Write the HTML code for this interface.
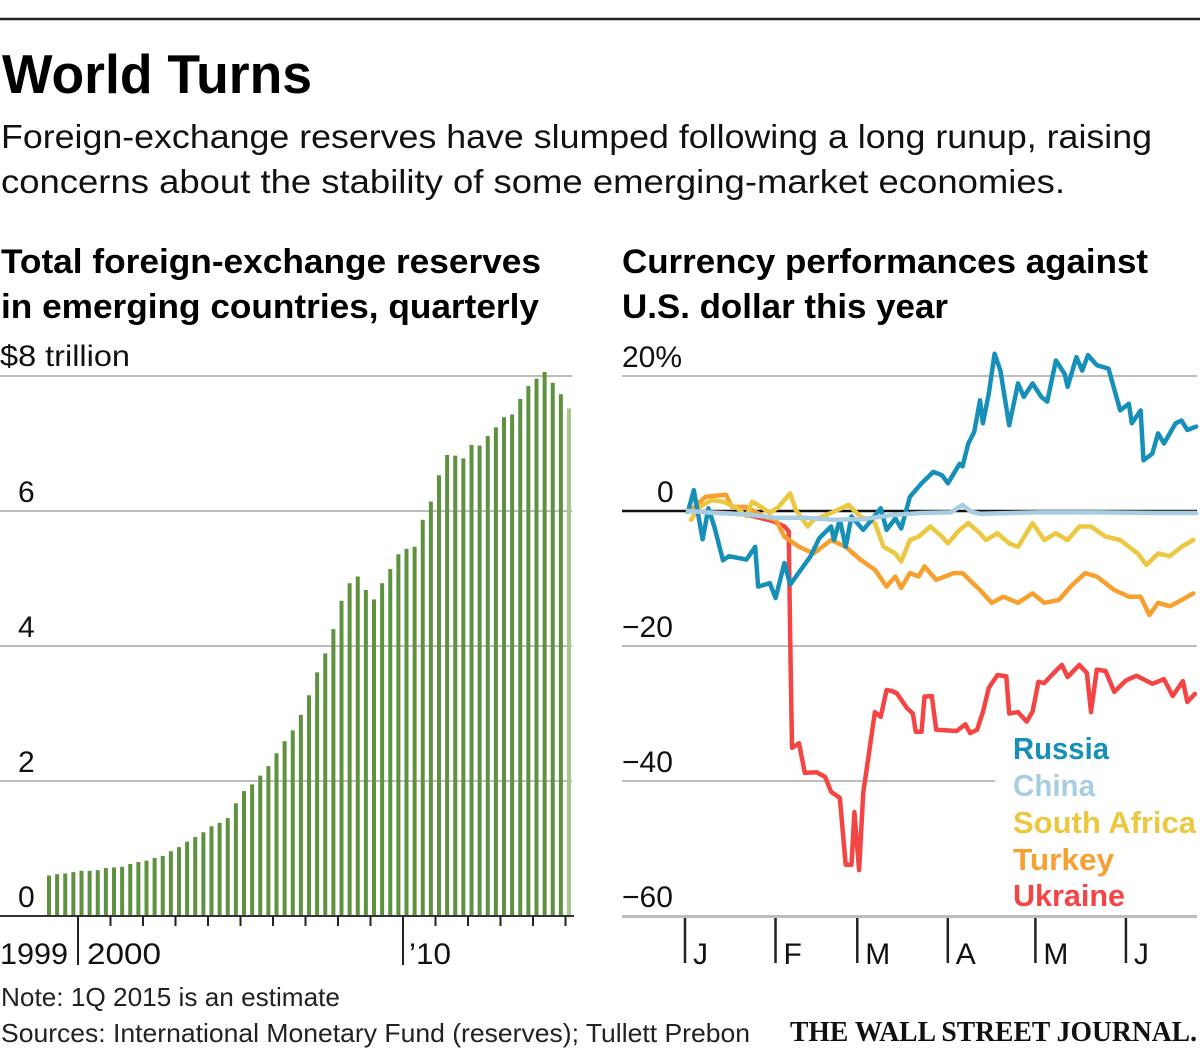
<!DOCTYPE html>
<html><head><meta charset="utf-8"><style>
html,body{margin:0;padding:0;background:#fff;}
svg{display:block;font-family:"Liberation Sans",sans-serif;}
</style></head><body>
<svg id="chart" width="1200" height="1050" viewBox="0 0 1200 1050" xmlns="http://www.w3.org/2000/svg">
<line x1="0" y1="19" x2="1200" y2="19" stroke="#222" stroke-width="2.5"/>
<text x="2" y="93" font-size="55" font-weight="bold" textLength="310" lengthAdjust="spacingAndGlyphs" fill="#000">World Turns</text>
<text x="1" y="148" font-size="33" textLength="1151" lengthAdjust="spacingAndGlyphs" fill="#111">Foreign-exchange reserves have slumped following a long runup, raising</text>
<text x="1" y="193" font-size="33" textLength="1064" lengthAdjust="spacingAndGlyphs" fill="#111">concerns about the stability of some emerging-market economies.</text>
<text x="1" y="273" font-size="34" font-weight="bold" textLength="540" lengthAdjust="spacingAndGlyphs">Total foreign-exchange reserves</text>
<text x="1" y="318" font-size="34" font-weight="bold" textLength="538" lengthAdjust="spacingAndGlyphs">in emerging countries, quarterly</text>
<text x="622" y="273" font-size="34" font-weight="bold" textLength="526" lengthAdjust="spacingAndGlyphs">Currency performances against</text>
<text x="622" y="318" font-size="34" font-weight="bold" textLength="326" lengthAdjust="spacingAndGlyphs">U.S. dollar this year</text>
<g id="left"></g>
<g id="right"></g>
<text x="1" y="1006" font-size="26" textLength="339" lengthAdjust="spacingAndGlyphs" fill="#222">Note: 1Q 2015 is an estimate</text>
<text x="1" y="1042" font-size="26" textLength="749" lengthAdjust="spacingAndGlyphs" fill="#222">Sources: International Monetary Fund (reserves); Tullett Prebon</text>
<text x="790" y="1041" font-size="28" font-weight="bold" font-family="Liberation Serif, serif" textLength="407" lengthAdjust="spacingAndGlyphs" fill="#111">THE WALL STREET JOURNAL.</text>
</svg>
<script>
// ---- Left chart data ----
const reserveQuarters = 65; // 1999Q1 .. 2015Q1
const reserveValues = [0.60,0.62,0.63,0.65,0.67,0.67,0.68,0.71,0.72,0.73,0.77,0.80,0.82,0.86,0.89,0.96,1.02,1.10,1.17,1.24,1.33,1.38,1.45,1.67,1.85,1.95,2.08,2.22,2.41,2.59,2.75,2.98,3.27,3.61,3.89,4.25,4.67,4.93,5.03,4.83,4.69,4.93,5.14,5.36,5.44,5.47,5.87,6.14,6.53,6.83,6.82,6.78,6.98,6.97,7.11,7.24,7.39,7.43,7.66,7.85,7.96,8.06,7.90,7.73,7.52];
const leftTicks = [0,2,4,6];
const leftTickLabels = ["0","2","4","6"];
const yearTicks = [2000,2001,2002,2003,2004,2005,2006,2007,2008,2009,2010,2011,2012,2013,2014,2015];

// ---- Right chart data (day of year, percent) ----
const monthDays = [0,31,59,90,120,151];
const monthLabels = ["J","F","M","A","M","J"];
const rightTicks = [20,0,-20,-40,-60];
const rightTickLabels = ["20%","0","\u221220","\u221240","\u221260"];
const ukraineDays = [0,20,29,33,34.5,35,35.6,38,40,44,47,49,52,54,56,57,58.6,60,64,66,68,70,71.5,75,77,78,80,81,83.5,85,92,95,96.6,99,101,103,106,109,110,113,116,118,120,122,124.6,128,130,134,136.6,138,140,143,146,150,153.6,159,163,166,169.5,171,173.6];
const ukraineVals = [0,-0.5,-1.5,-2.3,-3,-19,-35.1,-34.4,-38.8,-38.7,-39.4,-41.6,-42.5,-52.4,-52.4,-44.6,-53.2,-41.8,-29.8,-30.5,-26.5,-26.7,-27,-29.2,-30,-32.7,-32.7,-27.5,-27.4,-32.4,-32.6,-31.6,-32.9,-32.4,-29.8,-26.2,-24.3,-24.5,-30,-29.8,-31.2,-29.7,-25.3,-25.5,-24.3,-22.8,-24.6,-22.8,-24,-29.8,-23.5,-23.7,-26.8,-25.1,-24.4,-25.6,-24.9,-27.4,-25.2,-28.3,-27.1];
const turkeyDays = [1,6,13,15,20,22,26,30,33,38,43,49,54,59,64,68,71,73,76,79,81,85,91,94,100,104,108,113,118,122,127,131,136,140,146,151,155,158,161,165,169,173];
const turkeyVals = [0.1,2.1,2.4,0.6,0.6,0.1,-0.8,-1.3,-3.8,-5.3,-6.3,-4.3,-5.3,-7.2,-8.7,-11.2,-9.7,-11.4,-9.2,-9.7,-8.2,-10.2,-9.2,-9.2,-11.7,-13.6,-12.7,-13.6,-12.2,-13.6,-13.2,-11.2,-9.2,-9.7,-11.7,-12.7,-12.7,-15.4,-13.6,-14.1,-13.2,-12.2];
const safricaDays = [1,4,8,12,17,20,22,25,28,31,35,37,41,43,49,55,59,64,67,71,73,76,79,83,87,89,93,96,100,102,106,110,113,118,122,126,130,134,138,143,148,154,157,161,165,169,173];
const safricaVals = [-1.3,0.6,1.6,1.4,0.4,-0.8,1.4,0.6,-0.3,0.6,2.6,0.1,-2.3,-1.3,-0.3,0.9,-0.8,-1.8,-5.3,-6.3,-7.5,-4.3,-3.8,-2.3,-3.8,-4.8,-2.8,-1.8,-3.3,-4.3,-3.3,-4.8,-5.3,-1.8,-4.3,-3.3,-4.3,-2.3,-2.3,-3.8,-4.3,-6.3,-8,-6.3,-6.7,-5.3,-4.3];
const chinaDays = [0,10,20,30,40,50,60,70,80,90,94,97,100,120,140,160,174];
const chinaVals = [0,-0.3,-0.5,-1,-1,-1.3,-1.2,-0.6,-0.3,-0.2,0.9,-0.1,-0.4,-0.2,-0.2,-0.3,-0.3];
const russiaDays = [0,2,5,7,9,12,14,20,23,24,28,30,33,35,37,42,45,49,50,52,54,56,60,62,66,68,71,73,76,80,84,87,89,93,94,96,98,100,101,103,105,107,110,113,115,118,121,123,126,129,130,133,135,137,140,144,148,151,152,155,156,159,161,163,167,169,171,174];
const russiaVals = [-0.1,3.1,-4.2,0.4,-2.3,-7.3,-6.7,-7.2,-5.3,-11.2,-10.7,-12.9,-7.7,-10.9,-9.7,-6.7,-4,-2.3,-4.3,-1.3,-5.3,-0.8,-2.8,-1.8,0.4,-2.8,-1.1,-2.6,2.1,4.1,5.8,5.3,4.1,7,6.6,10,11.7,16.4,13,17.4,23.3,20.8,12.7,18.9,16.9,18.9,16.9,16.2,22.3,20.3,18.4,22.8,20.8,23.1,21.6,21.1,14.9,15.9,13,14.9,7.5,8.5,11.5,10,13,13.4,12,12.5];

const NS = "http://www.w3.org/2000/svg";
function mk(parent, tag, attrs, text){
  const el = document.createElementNS(NS, tag);
  for (const k in attrs) el.setAttribute(k, attrs[k]);
  if (text !== undefined) el.textContent = text;
  parent.appendChild(el);
  return el;
}

// ---- Left chart ----
const L = document.getElementById('left');
const ly = v => 916 - v * 67.5;
const lx = i => 49 + i * (569 - 49) / (reserveQuarters - 1);
const yearX = y => lx((y - 1999) * 4) - 3.5;
leftTicks.forEach((t, i) => {
  if (t !== 0) {
    const g = mk(L, 'line', {x1:0, x2:572, y1:ly(t), y2:ly(t), stroke:'#bdbdbd', 'stroke-width':2});
    
    
  }
  const tl = mk(L, 'text', {x:18, y:ly(t)-9, 'font-size':30, fill:'#111'}, leftTickLabels[i]);
  
  
});
const topLine = mk(L, 'line', {x1:0, x2:572, y1:ly(8), y2:ly(8), stroke:'#bdbdbd', 'stroke-width':2});


const unit = mk(L, 'text', {x:0, y:366, 'font-size':30, fill:'#111', textLength:130, lengthAdjust:'spacingAndGlyphs'}, '$8 trillion');


reserveValues.forEach((v, i) => {
  const b = mk(L, 'rect', {x:lx(i)-2, y:ly(v), width:4, height:916-ly(v), fill: i === reserveValues.length-1 ? '#a5c884' : '#5e9140'});
  
  
});
const lbase = mk(L, 'line', {x1:0, x2:574, y1:916, y2:916, stroke:'#333', 'stroke-width':2});


yearTicks.forEach(y => {
  const long = (y === 2000 || y === 2010);
  const t = mk(L, 'line', {x1:yearX(y), x2:yearX(y), y1:916, y2: long ? 965 : 926, stroke:'#222', 'stroke-width':2});
  
  
});
[["1999",0,68],["2000",yearX(2000)+9,74],["\u201910",yearX(2010)+6,42]].forEach(d => {
  const t = mk(L, 'text', {x:d[1], y:964, 'font-size':30, fill:'#111', textLength:d[2], lengthAdjust:'spacingAndGlyphs'}, d[0]);
  
  
});

// ---- Right chart ----
const R = document.getElementById('right');
const ry = v => 511 - v * 6.75;
const rx = d => 688 + d * 2.92;
rightTicks.forEach((t, i) => {
  let x2 = 1197;
  if (t === -40) x2 = 995;
  if (t !== 0) {
    const g = mk(R, 'line', {x1:622, x2:x2, y1:ry(t), y2:ry(t), stroke:'#bdbdbd', 'stroke-width':2});
    
    
  }
  const x = t === 0 ? 657 : 622;
  const tl = mk(R, 'text', {x:x, y:ry(t)-9, 'font-size':30, fill:'#111'}, rightTickLabels[i]);
  
  
});
const zl = mk(R, 'line', {x1:622, x2:1197, y1:ry(0), y2:ry(0), stroke:'#111', 'stroke-width':2.5});


monthDays.forEach((d, i) => {
  const t = mk(R, 'line', {x1:rx(d)-3, x2:rx(d)-3, y1:917, y2:963, stroke:'#222', 'stroke-width':2.5});
  
  
  const l = mk(R, 'text', {x:rx(d)+5, y:964, 'font-size':30, fill:'#111'}, monthLabels[i]);
  
  
});
function series(days, vals, color, name){
  const pts = days.map((d, i) => rx(d).toFixed(1) + ',' + ry(vals[i]).toFixed(1)).join(' ');
  const p = mk(R, 'polyline', {points:pts, fill:'none', stroke:color, 'stroke-width':4.5, 'stroke-linejoin':'round', 'stroke-linecap':'round'});
  
  
}
series(ukraineDays, ukraineVals, '#f44545', 'ukraine-line');
series(turkeyDays, turkeyVals, '#f7a030', 'turkey-line');
series(safricaDays, safricaVals, '#ecc840', 'south-africa-line');
series(russiaDays, russiaVals, '#1790b9', 'russia-line');
series(chinaDays, chinaVals, '#a8cde0', 'china-line');
[["Russia",'#1790b9',759,96],["China",'#a8cde0',796,82],["South Africa",'#ecc840',833,183],["Turkey",'#f7a030',870,101],["Ukraine",'#f44545',906,112]].forEach(d => {
  const t = mk(R, 'text', {x:1013, y:d[2], 'font-size':31, 'font-weight':'bold', fill:d[1], textLength:d[3], lengthAdjust:'spacingAndGlyphs'}, d[0]);
  
  
});
const rbase = mk(R, 'line', {x1:622, x2:1197, y1:917, y2:917, stroke:'#bdbdbd', 'stroke-width':2});


</script>
</body></html>
